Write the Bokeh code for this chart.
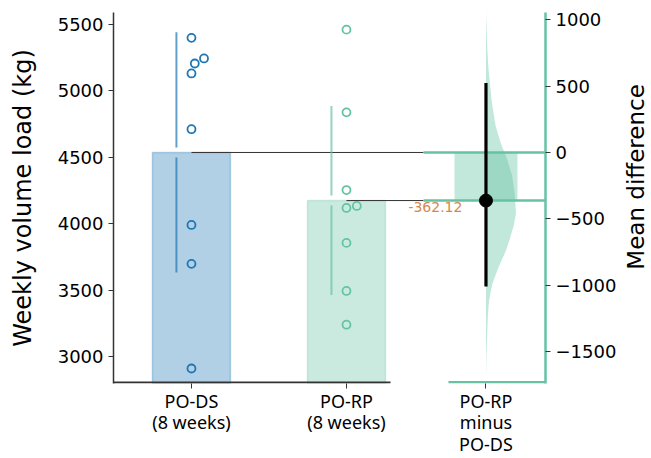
import math
import numpy as np
from bokeh.plotting import figure
from bokeh.layouts import row
from bokeh.models import Range1d, LinearAxis, FixedTicker
from bokeh.embed import file_html
from bokeh.resources import INLINE
from bokeh.core.properties import value

# ---------------- data ----------------
group_tick_labels = ["PO-DS\n(8 weeks)", "PO-RP\n(8 weeks)"]
contrast_tick_label = "PO-RP\nminus\nPO-DS"
left_title = "Weekly volume load (kg)"
right_title = "Mean difference"
po_ds = [5400, 5245, 5207, 5132, 4712, 3991, 3698, 2910]
po_rp = [5462, 4839, 4254, 4134, 4119, 3856, 3494, 3240]
ci_low, ci_high = -1010, 524
boot_values = [1066, 800, 637, 389, 200, 72, -48, -176, -304, -455, -553,
               -681, -741, -869, -990, -1117, -1245, -1494, -1697]
boot_density = [0, 0.04, 0.08, 0.19, 0.32, 0.49, 0.70, 0.87, 0.95, 1.0, 0.92,
                0.75, 0.66, 0.41, 0.21, 0.10, 0.06, 0.02, 0]
left_ticks = [3000, 3500, 4000, 4500, 5000, 5500]
diff_ticks = [-1500, -1000, -500, 0, 500, 1000]

# ---------------- layout / style constants ----------------
X_PX = 155.0      # px per x unit
Y_PX = 0.1328     # px per kg
x_start, x_end = -0.503, 2.284
y_start, y_end = 2797, 5591
group_x = [0.0, 1.0]
diff_x = 1.9
bar_w, diff_bar_w, violin_w = 0.503, 0.406, 0.194
sd_off = -0.097
link_end = 1.497
black_spine_end, teal_spine_start = 1.284, 1.658
gap = 5 / Y_PX
BLUE, TEAL = "#1f77b4", "#66c2a5"
DARK = "#333333"
H = 458
MAIN_W, STRIP_W = 620, 31

groups = [np.array(po_ds, float), np.array(po_rp, float)]
colors = [BLUE, TEAL]
means = [g.mean() for g in groups]
sds = [g.std(ddof=1) for g in groups]
mean_diff = means[1] - means[0]


def swarm(vals, diam_px=10.5):
    vals = np.asarray(vals, float)
    offs = np.zeros(len(vals))
    placed = []
    for i in np.argsort(vals):
        y = vals[i] * Y_PX
        cands = [0.0]
        for px, py in placed:
            dy = abs(y - py)
            if dy < diam_px:
                cands.append(px + np.sqrt(diam_px ** 2 - dy ** 2))
        for c in sorted(cands):
            if all((c - px) ** 2 + (y - py) ** 2 >= diam_px ** 2 - 1e-6 for px, py in placed):
                offs[i] = c
                break
        placed.append((offs[i], y))
    return offs / X_PX


p = figure(width=MAIN_W, height=H, output_backend="svg", toolbar_location=None,
           x_range=Range1d(x_start, x_end), y_range=Range1d(y_start, y_end),
           min_border_left=113, min_border_right=MAIN_W - 545, min_border_top=12,
           min_border_bottom=75, background_fill_color="white",
           border_fill_color="white")
p.outline_line_color = None
p.grid.visible = False
p.extra_y_ranges = {"diff": Range1d(y_start - means[0], y_end - means[0])}

# bars
for gx, m, c in zip(group_x, means, colors):
    p.vbar(x=[gx], top=[m], bottom=[y_start], width=bar_w, fill_color=c,
           fill_alpha=0.35, line_color=c, line_alpha=0.3, line_width=1.5)

# mean link lines
for gx, m in zip(group_x, means):
    p.segment(x0=[gx], y0=[m], x1=[link_end], y1=[m], line_color=DARK, line_width=1)

# SD bars with gap
for gx, m, s, c in zip(group_x, means, sds, colors):
    p.segment(x0=[gx + sd_off] * 2, y0=[m + gap, m - s], x1=[gx + sd_off] * 2,
              y1=[m + s, m - gap], line_color=c, line_alpha=0.7, line_width=2)

# raw points
for gx, g, c in zip(group_x, groups, colors):
    p.scatter(x=gx + swarm(g), y=g, size=8, fill_color=None, line_color=c,
              line_width=1.8)

# contrast panel
p.vbar(x=[diff_x], top=[0], bottom=[mean_diff], width=diff_bar_w, fill_color=TEAL,
       fill_alpha=0.4, line_color=None, y_range_name="diff")
vx = [diff_x + d * violin_w for d in boot_density] + [diff_x, diff_x]
vy = list(boot_values) + [boot_values[-1], boot_values[0]]
p.patch(x=vx, y=vy, fill_color=TEAL, fill_alpha=0.4, line_color=None, y_range_name="diff")
p.segment(x0=[link_end] * 2, y0=[0, mean_diff], x1=[x_end] * 2, y1=[0, mean_diff],
          line_color=TEAL, line_width=2.5, y_range_name="diff")
p.segment(x0=[diff_x], y0=[ci_low], x1=[diff_x], y1=[ci_high], line_color="black",
          line_width=3.2, y_range_name="diff")
p.scatter(x=[diff_x], y=[mean_diff], size=13, fill_color="black", line_color="black",
          y_range_name="diff")
p.text(x=[1.748], y=[mean_diff], text=[f"{mean_diff:.2f}"], y_range_name="diff",
       text_align="right", text_baseline="top", y_offset=1, text_font_size="14px",
       text_color="#d4884f", text_font=value("DejaVu Sans"))

# bottom spines (drawn as glyphs, just inside the frame)
px1 = 1 / Y_PX
p.segment(x0=[x_start], y0=[y_start + px1], x1=[black_spine_end], y1=[y_start + px1],
          line_color=DARK, line_width=2)
p.segment(x0=[teal_spine_start], y0=[y_start + 1.25 * px1], x1=[x_end],
          y1=[y_start + 1.25 * px1], line_color=TEAL, line_width=2.5)

# axes
xa = p.xaxis[0]
xa.ticker = FixedTicker(ticks=group_x + [diff_x])
xa.major_label_overrides = {group_x[0]: group_tick_labels[0],
                            group_x[1]: group_tick_labels[1],
                            diff_x: contrast_tick_label}
xa.axis_line_color = None
xa.major_tick_out = 5
xa.major_tick_in = 0
xa.major_tick_line_color = DARK
xa.minor_tick_line_color = None
xa.major_label_text_font = "Noto Sans"
xa.major_label_text_font_size = "18px"
xa.major_label_text_line_height = 0.9
xa.major_label_text_color = "black"
xa.major_label_standoff = 0

ya = p.yaxis[0]
ya.ticker = FixedTicker(ticks=left_ticks)
ya.axis_label = left_title
ya.axis_label_text_font = "DejaVu Sans"
ya.axis_label_text_font_size = "24px"
ya.axis_label_text_font_style = "normal"
ya.axis_label_text_color = "black"
ya.axis_label_standoff = 18
ya.axis_line_color = DARK
ya.axis_line_width = 1.5
ya.major_tick_out = 5
ya.major_tick_in = 0
ya.major_tick_line_color = DARK
ya.minor_tick_line_color = None
ya.major_label_text_font = "DejaVu Sans"
ya.major_label_text_font_size = "18px"
ya.major_label_text_color = "black"
ya.major_label_standoff = 5

ra = LinearAxis(y_range_name="diff", ticker=FixedTicker(ticks=diff_ticks))
ra.major_label_overrides = {t: (f"\u2212{abs(t)}" if t < 0 else f"{t}") for t in diff_ticks}
ra.axis_line_color = TEAL
ra.axis_line_width = 2.5
ra.major_tick_out = 5
ra.major_tick_in = 0
ra.major_tick_line_color = DARK
ra.minor_tick_line_color = None
ra.major_label_text_font = "DejaVu Sans"
ra.major_label_text_font_size = "18px"
ra.major_label_text_color = "black"
ra.major_label_standoff = 5
p.add_layout(ra, "right")

# narrow strip holding the right-hand axis title (reads bottom-to-top)
t = figure(width=STRIP_W, height=H, output_backend="svg", toolbar_location=None,
           x_range=Range1d(0, STRIP_W), y_range=Range1d(H, 0),
           x_axis_location=None, y_axis_location=None,
           min_border_left=0, min_border_right=0, min_border_top=0,
           min_border_bottom=0, background_fill_color="white",
           border_fill_color="white")
t.outline_line_color = None
t.grid.visible = False
t.text(x=[15], y=[203], text=[right_title], angle=math.pi / 2,
       text_align="center", text_baseline="middle", text_font_size="23px",
       text_color="black", text_font=value("DejaVu Sans"))

layout = row(p, t, spacing=0)
open("out.html", "w").write(file_html(layout, INLINE))
